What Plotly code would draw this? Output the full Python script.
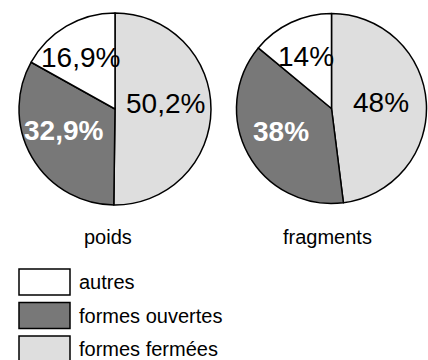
import plotly.graph_objects as go

W, H = 428, 360

# Categories (clockwise from 12 o'clock) and their shares in each pie
categories = ["formes fermées", "formes ouvertes", "autres"]
colors = ["#dedede", "#787878", "#ffffff"]
poids = [50.2, 32.9, 16.9]
fragments = [48, 38, 14]
pie_titles = ["poids", "fragments"]

# Legend order (top to bottom)
legend_order = ["autres", "formes ouvertes", "formes fermées"]

FONT = "Liberation Sans, Arial, Helvetica, sans-serif"


def px(x, y):
    """Pixel position (from top-left) to paper coordinates."""
    return x / W, 1 - y / H


def fmt(v):
    s = f"{v:.1f}" if v != int(v) else f"{int(v)}"
    return s.replace(".", ",") + "%"


fig = go.Figure()

# pie geometry: centre (px) and radius
pies = [
    (poids, 115, 109, 96),
    (fragments, 331.5, 108.5, 95),
]
for vals, cx, cy, r in pies:
    x0, y1 = px(cx - r, cy - r)
    x1, y0 = px(cx + r, cy + r)
    fig.add_trace(go.Pie(
        labels=categories,
        values=vals,
        sort=False,
        direction="clockwise",
        rotation=0,
        marker=dict(colors=colors, line=dict(color="#000000", width=1.5)),
        textinfo="none",
        hoverinfo="label+percent",
        showlegend=False,
        domain=dict(x=[x0, x1], y=[y0, y1]),
    ))

# value labels inside slices: (pie index, category index, x, y)
label_pos = [
    (0, 0, 165, 104),
    (0, 1, 64, 130),
    (0, 2, 80, 58),
    (1, 0, 381, 102),
    (1, 1, 281, 131),
    (1, 2, 306, 56),
]
series = [poids, fragments]
annotations = []
for p, c, x, y in label_pos:
    ax, ay = px(x, y)
    dark = categories[c] == "formes ouvertes"
    annotations.append(dict(
        x=ax, y=ay, xref="paper", yref="paper",
        text=(f"<b>{fmt(series[p][c])}</b>" if dark else fmt(series[p][c])),
        showarrow=False, xanchor="center", yanchor="middle",
        font=dict(family=FONT, size=28, color="#ffffff" if dark else "#000000"),
    ))

# titles under the pies
for title, x in zip(pie_titles, [107.5, 327]):
    ax, ay = px(x, 237)
    annotations.append(dict(
        x=ax, y=ay, xref="paper", yref="paper", text=title,
        showarrow=False, xanchor="center", yanchor="middle",
        font=dict(family=FONT, size=20, color="#000000"),
    ))

# legend: swatches + labels
shapes = []
box_x0, box_x1 = 19, 70
for i, name in enumerate(legend_order):
    top = 269 + i * 33.5
    bot = top + 26
    x0, y1 = px(box_x0, top)
    x1, y0 = px(box_x1, bot)
    shapes.append(dict(
        type="rect", xref="paper", yref="paper", x0=x0, x1=x1, y0=y0, y1=y1,
        fillcolor=colors[categories.index(name)],
        line=dict(color="#000000", width=1.5),
    ))
    tx, ty = px(77, (top + bot) / 2)
    annotations.append(dict(
        x=tx, y=ty, xref="paper", yref="paper", text=name,
        showarrow=False, xanchor="left", yanchor="middle",
        font=dict(family=FONT, size=20, color="#000000"),
    ))

fig.update_layout(
    width=W, height=H,
    margin=dict(l=0, r=0, t=0, b=0),
    paper_bgcolor="#ffffff",
    plot_bgcolor="#ffffff",
    annotations=annotations,
    shapes=shapes,
    showlegend=False,
)

fig.write_html("out.html")
